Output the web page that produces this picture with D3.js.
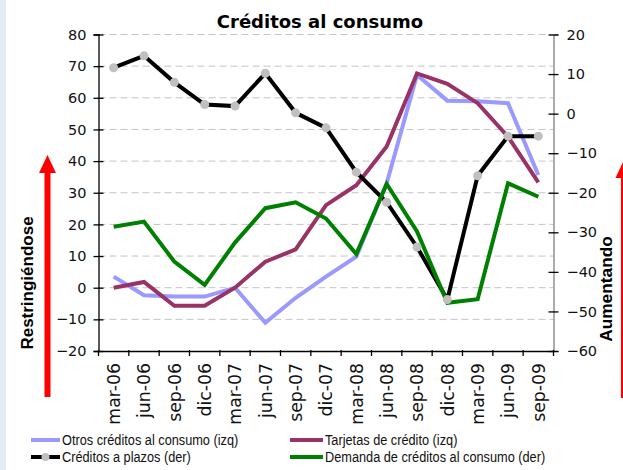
<!DOCTYPE html>
<html>
<head>
<meta charset="utf-8">
<script src="https://cdn.jsdelivr.net/npm/d3@7"></script>
<style>
  body { margin: 0; background: #fff; }
  svg { display: block; }
</style>
</head>
<body>
<svg width="623" height="470"></svg>
<script>
// DATA
var categories = ["mar-06","jun-06","sep-06","dic-06","mar-07","jun-07","sep-07","dic-07",
                  "mar-08","jun-08","sep-08","dic-08","mar-09","jun-09","sep-09"];
// izq
var otros    = [3.5, -2.4, -2.8, -2.8, 0, -11.1, -3.2, 3.5, 9.8, 33, 67.2, 59.1, 58.9, 58.3, 35.6];
var tarjetas = [0, 1.8, -5.7, -5.7, 0, 8.2, 12.1, 26.1, 32.4, 44.6, 67.7, 64.4, 58.3, 47.7, 33.3];
// der
var plazos   = [11.6, 14.6, 7.9, 2.3, 1.9, 10.2, 0.2, -3.6, -14.8, -22.4, -33.7, -47, -15.7, -5.7, -5.7];
var demanda  = [-28.6, -27.3, -37.4, -43.3, -32.6, -23.9, -22.4, -26.5, -35.5, -17.8, -29.8, -47.8, -46.9, -17.6, -21];
var leftTicks = [-20, -10, 0, 10, 20, 30, 40, 50, 60, 70, 80];
var rightTicks = [-60, -50, -40, -30, -20, -10, 0, 10, 20];

var svg = d3.select("svg");

// left page strip
svg.append("rect").attr("x", 0).attr("y", 0).attr("width", 6).attr("height", 470).attr("fill", "#e4eaf2");

var pLeft = 98.5, pRight = 553.5, pTop = 34.5, pBottom = 351;

var x = d3.scaleBand().domain(categories).range([pLeft, pRight]);
var yL = d3.scaleLinear().domain([-20, 80]).range([pBottom, pTop]);
var yR = d3.scaleLinear().domain([-60, 20]).range([pBottom, pTop]);
var cx = function(d, i) { return x(categories[i]) + x.bandwidth() / 2; };

// title
svg.append("text")
  .attr("x", 320).attr("y", 28)
  .attr("text-anchor", "middle")
  .style("font-family", "DejaVu Sans")
  .style("font-weight", "bold")
  .style("font-size", "18px")
  .text("Créditos al consumo");

// gridlines
svg.append("g").selectAll("line")
  .data(leftTicks.filter(function(t) { return t > -20; }))
  .enter().append("line")
  .attr("x1", pLeft).attr("x2", pRight)
  .attr("y1", function(d) { return yL(d); })
  .attr("y2", function(d) { return yL(d); })
  .attr("stroke", "#c4c4c4")
  .attr("stroke-width", 1)
  .attr("stroke-dasharray", "7,4");

// axes
var axL = svg.append("g")
  .attr("transform", "translate(" + pLeft + ",0)")
  .call(d3.axisLeft(yL).tickValues(leftTicks).tickSize(5).tickPadding(7).tickFormat(d3.format("d")));
axL.selectAll(".tick line").attr("x1", 5);

var axR = svg.append("g")
  .attr("transform", "translate(" + pRight + ",0)")
  .call(d3.axisRight(yR).tickValues(rightTicks).tickSize(5).tickPadding(8).tickFormat(d3.format("d")));
axR.selectAll(".tick line").attr("x1", -5);
axR.select(".domain").attr("stroke", "#808080");

[axL, axR].forEach(function(a) {
  a.selectAll(".domain").attr("stroke-width", 1.3);
  a.selectAll(".tick line").attr("stroke-width", 1.3);
  a.selectAll("text")
    .style("font-family", "DejaVu Sans")
    .style("font-size", "14.5px")
    .attr("fill", "#111");
});

// bottom axis
var axB = svg.append("g")
  .attr("transform", "translate(0," + pBottom + ")")
  .call(d3.axisBottom(x).tickSize(0).tickPadding(0));
axB.select(".domain").attr("stroke-width", 1.3);
axB.selectAll("text")
  .attr("transform", "rotate(-90)")
  .attr("x", -12).attr("y", 0).attr("dy", "0.36em")
  .attr("text-anchor", "end")
  .style("font-family", "DejaVu Sans")
  .style("font-size", "17.3px")
  .attr("fill", "#111");
svg.append("g").selectAll("line")
  .data(categories.concat(["end"]))
  .enter().append("line")
  .attr("x1", function(d, i) { return pLeft + i * x.step(); })
  .attr("x2", function(d, i) { return pLeft + i * x.step(); })
  .attr("y1", pBottom - 1).attr("y2", pBottom + 5)
  .attr("stroke", "#000").attr("stroke-width", 1.3);

// series
var series = [
  { name: "Otros créditos al consumo (izq)", values: otros, scale: yL, color: "#9999ff" },
  { name: "Tarjetas de crédito (izq)", values: tarjetas, scale: yL, color: "#993366" },
  { name: "Créditos a plazos (der)", values: plazos, scale: yR, color: "#000000", marker: true },
  { name: "Demanda de créditos al consumo (der)", values: demanda, scale: yR, color: "#008000" }
];

series.forEach(function(s) {
  var line = d3.line()
    .x(cx)
    .y(function(d) { return s.scale(d); });
  svg.append("path")
    .attr("d", line(s.values))
    .attr("fill", "none")
    .attr("stroke", s.color)
    .attr("stroke-width", 4)
    .attr("stroke-linejoin", "miter");
});

series.filter(function(s) { return s.marker; }).forEach(function(s) {
  svg.append("g").selectAll("circle")
    .data(s.values)
    .enter().append("circle")
    .attr("cx", cx)
    .attr("cy", function(d) { return s.scale(d); })
    .attr("r", 4.5)
    .attr("fill", "#c0c0c0");
});

// red arrows
function arrow(xc, yTop, yBot, shaft, head, headLen) {
  svg.append("rect")
    .attr("x", xc - shaft / 2).attr("y", yTop + headLen - 1)
    .attr("width", shaft).attr("height", yBot - yTop - headLen + 1)
    .attr("fill", "#ff0000");
  svg.append("path")
    .attr("d", "M" + xc + "," + yTop + "L" + (xc + head / 2) + "," + (yTop + headLen) + "L" + (xc - head / 2) + "," + (yTop + headLen) + "Z")
    .attr("fill", "#ff0000");
}
arrow(47.5, 155, 397, 6, 17, 18);
arrow(624, 160, 398, 6, 17, 18);

svg.append("text")
  .attr("transform", "translate(33,283) rotate(-90)")
  .attr("text-anchor", "middle")
  .style("font-family", "Liberation Sans")
  .style("font-weight", "bold")
  .style("font-size", "17px")
  .text("Restringiéndose");
svg.append("text")
  .attr("transform", "translate(612,289) rotate(-90)")
  .attr("text-anchor", "middle")
  .style("font-family", "Liberation Sans")
  .style("font-weight", "bold")
  .style("font-size", "17.3px")
  .text("Aumentando");

// legend (narrow font look: squeeze horizontally)
var legendPos = [[31, 440], [290, 440], [31, 457], [290, 457]];
series.forEach(function(s, i) {
  var p = legendPos[i];
  var len = i % 2 === 0 ? 29 : 33;
  var g = svg.append("g").attr("transform", "translate(" + p[0] + "," + p[1] + ")");
  g.append("line")
    .attr("x1", 0).attr("x2", len).attr("y1", 0).attr("y2", 0)
    .attr("stroke", s.color).attr("stroke-width", 4);
  if (s.marker) {
    g.append("circle").attr("cx", len / 2).attr("cy", 0).attr("r", 4).attr("fill", "#c0c0c0");
  }
  g.append("text")
    .attr("transform", "translate(" + (len + 2) + ",0) scale(0.85,1)")
    .attr("dy", "0.36em")
    .style("font-family", "Liberation Sans")
    .style("font-size", "15px")
    .attr("fill", "#111")
    .text(s.name);
});
</script>
</body>
</html>
